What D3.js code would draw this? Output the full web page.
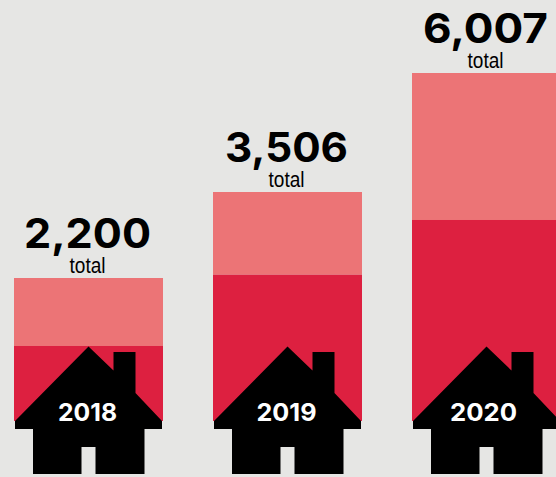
<!DOCTYPE html>
<html><head><meta charset="utf-8">
<script src="https://cdn.jsdelivr.net/npm/d3@7"></script>
<style>html,body{margin:0;padding:0;background:#e6e6e4;overflow:hidden}svg{display:block}</style>
</head><body><svg id="c" width="556" height="477"></svg>
<script>
const years = ["2018","2019","2020"];
const totals = [2200,3506,6007];
const darkValues = [1154,2250,3081];
const totalLabels = ["2,200","3,506","6,007"];
const labelWidths = [127,123,125];
const yearWidths = [59,60,67];

const svg = d3.select("#c");
svg.append("rect").attr("width",556).attr("height",477).attr("fill","#e6e6e4");
const x = d3.scaleBand().domain(years).range([14,561]).paddingInner(50/199).paddingOuter(0);
// The published bars are not drawn to one linear scale, so the axis is piecewise.
const y = d3.scaleLinear().domain([0,2200,3506,6007]).range([421,278,192,73]);

const g = svg.selectAll("g.col").data(years.map((yr,i)=>({yr,total:totals[i],dark:darkValues[i],label:totalLabels[i],lw:labelWidths[i],yw:yearWidths[i]})))
  .join("g").attr("class","col");

g.append("rect").attr("x",d=>x(d.yr)).attr("width",x.bandwidth())
  .attr("y",d=>y(d.total)).attr("height",d=>y(d.dark)-y(d.total)).attr("fill","#ec7476");
g.append("rect").attr("x",d=>x(d.yr)).attr("width",x.bandwidth())
  .attr("y",d=>y(d.dark)).attr("height",d=>y(0)-y(d.dark)).attr("fill","#dd2040");

// house icon, relative to the bar centre and base
const house = "M0,-74.5 L25,-50.5 L25,-69 L47,-69 L47,-28 L73.5,0 L73.5,8 L56,8 L56,53 L7,53 L7,26 L-7,26 L-7,53 L-55.5,53 L-55.5,8 L-73.5,8 L-73.5,0 Z";
g.append("path").attr("d",house).attr("fill","#000")
  .attr("transform",d=>`translate(${x(d.yr)+x.bandwidth()/2},${y(0)})`);

g.append("text").text(d=>d.yr)
  .attr("x",d=>x(d.yr)+x.bandwidth()/2-1+(d.yr==="2020"?-2:0)).attr("y",y(0))
  .attr("text-anchor","middle").attr("fill","#fff")
  .attr("font-family","Inter, sans-serif").attr("font-weight",700).attr("font-size",24.5)
  .attr("textLength",d=>d.yw).attr("lengthAdjust","spacingAndGlyphs");

g.append("text").text(d=>d.label)
  .attr("x",d=>x(d.yr)+x.bandwidth()/2-1).attr("y",d=>y(d.total)-30.5)
  .attr("text-anchor","middle").attr("fill","#000")
  .attr("font-family","Inter, sans-serif").attr("font-weight",750).attr("font-size",41)
  .attr("textLength",d=>d.lw).attr("lengthAdjust","spacingAndGlyphs");

g.append("text").text("total")
  .attr("x",d=>x(d.yr)+x.bandwidth()/2-1).attr("y",d=>y(d.total)-5.5)
  .attr("text-anchor","middle").attr("fill","#000")
  .attr("font-family","'Liberation Sans', sans-serif").attr("font-size",21.5)
  .attr("textLength",36).attr("lengthAdjust","spacingAndGlyphs");
</script></body></html>
